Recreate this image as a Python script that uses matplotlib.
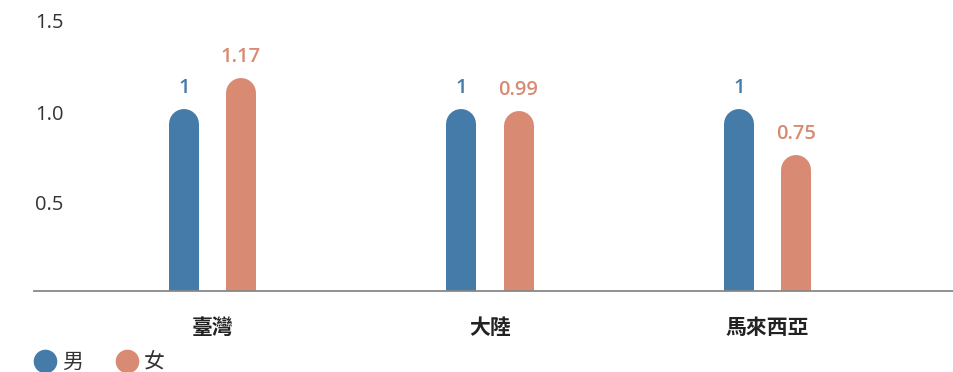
import matplotlib
matplotlib.use("Agg")
import matplotlib.pyplot as plt
from matplotlib.lines import Line2D
from matplotlib.transforms import ScaledTranslation

categories = ["臺灣", "大陸", "馬來西亞"]
series_names = ["男", "女"]
male = [1, 1, 1]
female = [1.17, 0.99, 0.75]
male_labels = ["1", "1", "1"]
female_labels = ["1.17", "0.99", "0.75"]
yticks = [0.5, 1.0, 1.5]
ytick_labels = ["0.5", "1.0", "1.5"]

BLUE = "#457BA8"
ORANGE = "#D88A72"
CJK = ["Noto Sans CJK TC", "DejaVu Sans"]
LAT = ["Open Sans", "DejaVu Sans"]

W, H, DPI = 954, 372, 100
fig = plt.figure(figsize=(W / DPI, H / DPI), dpi=DPI)

ax_left_px, ax_right_px, ax_bottom_px = 34, 954, 291
ax = fig.add_axes([ax_left_px / W, (H - ax_bottom_px) / H,
                   (ax_right_px - ax_left_px) / W, ax_bottom_px / H])

px_per_unit_y = 182.0
ymax = ax_bottom_px / px_per_unit_y
ax.set_ylim(0, ymax)

px_per_unit_x = 277.5
first_center_px = 212.5
ax.set_xlim(-(first_center_px - ax_left_px) / px_per_unit_x,
            (ax_right_px - first_center_px) / px_per_unit_x)

bar_px = 30
offset = 28.5 / px_per_unit_x
r = (bar_px / 2) / px_per_unit_y
lw_pt = bar_px * 72 / DPI

for i in range(len(categories)):
    for vals, labs, col, sgn in ((male, male_labels, BLUE, -1), (female, female_labels, ORANGE, 1)):
        x = i + sgn * offset
        v = vals[i]
        ax.plot([x, x], [-1, v - r], color=col, linewidth=lw_pt,
                solid_capstyle="round", zorder=2)
        ax.annotate(labs[i], (x, v), xytext=(0, 11.5), textcoords="offset points",
                    ha="center", va="baseline", color=col, fontsize=14.5,
                    fontweight="semibold", family=LAT)

for s in ["top", "right", "left"]:
    ax.spines[s].set_visible(False)
ax.spines["bottom"].set_color("#888888")
ax.spines["bottom"].set_linewidth(1.3)
ax.spines["bottom"].set_zorder(3)

ax.set_yticks(yticks)
ax.set_yticklabels(ytick_labels, family=LAT, fontsize=14.5, color="#333333")
ax.yaxis.set_tick_params(length=0, pad=-1)
shift = ScaledTranslation(0, -3 / DPI, fig.dpi_scale_trans)
for t in ax.get_yticklabels():
    t.set_horizontalalignment("left")
    t.set_transform(t.get_transform() + shift)

ax.set_xticks(range(len(categories)))
ax.set_xticklabels(categories, family=CJK, fontsize=15, fontweight="bold", color="#222222")
ax.xaxis.set_tick_params(length=0, pad=19)

handles = [Line2D([], [], linestyle="none", marker="o", markersize=16,
                  markerfacecolor=c, markeredgecolor=c) for c in (BLUE, ORANGE)]
fig.legend(handles, series_names, loc="center left",
           bbox_to_anchor=(35 / W, (H - 362) / H), ncol=2, frameon=False,
           prop={"family": CJK, "size": 15}, handlelength=1.0, handletextpad=0.3,
           columnspacing=1.6, borderpad=0, borderaxespad=0, labelcolor="#333333")

fig.savefig("out.png", dpi=DPI)
